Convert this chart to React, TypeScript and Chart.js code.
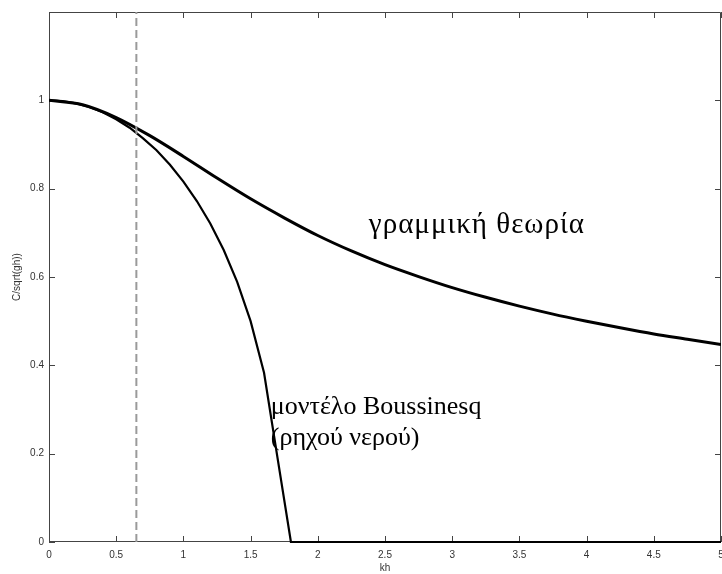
import React, { useEffect, useRef } from "react";
import { Chart, registerables } from "chart.js";

Chart.register(...registerables);

// kh samples and phase speed C/sqrt(gh) for linear theory
const KH_LINEAR = [0, 0.25, 0.5, 0.75, 1, 1.25, 1.5, 1.75, 2, 2.25, 2.5, 2.75, 3, 3.25, 3.5, 3.75, 4, 4.25, 4.5, 4.75, 5];
const C_LINEAR = [1, 0.99, 0.961, 0.92, 0.873, 0.824, 0.777, 0.734, 0.694, 0.659, 0.628, 0.601, 0.576, 0.554, 0.534, 0.516, 0.5, 0.485, 0.471, 0.459, 0.447];

// Boussinesq (shallow water) model
const KH_BOUSS = [0, 0.1, 0.2, 0.3, 0.4, 0.5, 0.6, 0.7, 0.8, 0.9, 1, 1.1, 1.2, 1.3, 1.4, 1.5, 1.6, 1.7, 1.8, 5];
const C_BOUSS = [1, 0.998, 0.993, 0.985, 0.973, 0.957, 0.938, 0.914, 0.887, 0.854, 0.816, 0.772, 0.721, 0.661, 0.589, 0.5, 0.383, 0.191, 0, 0];

// vertical dashed reference line
const KH_DASH = [0.65, 0.65];
const C_DASH = [0, 1.2];

const X_TICKS = [0, 0.5, 1, 1.5, 2, 2.5, 3, 3.5, 4, 4.5, 5];
const Y_TICKS = [0, 0.2, 0.4, 0.6, 0.8, 1];
const X_RANGE = [0, 5];
const Y_RANGE = [0, 1.2];

const X_TITLE = "kh";
const Y_TITLE = "C/sqrt(gh))";

// annotation texts, anchored in data coordinates (kh, C)
const NOTE_TEXTS = ["γραμμική θεωρία", "μοντέλο Boussinesq", "(ρηχού νερού)"];
const NOTE_KH = [2.38, 1.65, 1.65];
const NOTE_C = [0.699, 0.29, 0.22];
const NOTE_SIZE = [29, 26, 26];
const NOTE_SPACING = [1, 0, 0];

const TICK_FONT = { family: "'Liberation Sans', Arial, sans-serif", size: 10 };
const TICK_COLOR = "#333";

const boxPlugin = {
  id: "matlabBox",
  beforeDatasetsDraw(chart: any) {
    const { ctx, chartArea: a, scales } = chart;
    const xs = scales.x;
    const ys = scales.y;
    ctx.save();
    ctx.strokeStyle = "#444";
    ctx.lineWidth = 1;
    ctx.beginPath();
    ctx.rect(a.left + 0.5, a.top + 0.5, a.right - a.left - 1, a.bottom - a.top - 1);
    ctx.stroke();
    const L = 6;
    ctx.beginPath();
    X_TICKS.forEach((v) => {
      const px = Math.round(xs.getPixelForValue(v)) + 0.5;
      ctx.moveTo(px, a.bottom);
      ctx.lineTo(px, a.bottom - L);
      ctx.moveTo(px, a.top);
      ctx.lineTo(px, a.top + L);
    });
    Y_TICKS.forEach((v) => {
      const py = Math.round(ys.getPixelForValue(v)) + 0.5;
      ctx.moveTo(a.left, py);
      ctx.lineTo(a.left + L, py);
      ctx.moveTo(a.right, py);
      ctx.lineTo(a.right - L, py);
    });
    ctx.stroke();
    ctx.restore();
  },
  afterDatasetsDraw(chart: any) {
    const { ctx, scales } = chart;
    ctx.save();
    ctx.fillStyle = "#000";
    ctx.textAlign = "left";
    ctx.textBaseline = "alphabetic";
    NOTE_TEXTS.forEach((t, i) => {
      ctx.font = `${NOTE_SIZE[i]}px 'Liberation Serif', 'Times New Roman', serif`;
      (ctx as any).letterSpacing = `${NOTE_SPACING[i]}px`;
      ctx.fillText(t, scales.x.getPixelForValue(NOTE_KH[i]), scales.y.getPixelForValue(NOTE_C[i]));
    });
    ctx.restore();
  },
};

export default function App() {
  const ref = useRef<HTMLCanvasElement | null>(null);
  useEffect(() => {
    if (!ref.current) return;
    const toPts = (xs: number[], ys: number[]) => xs.map((x, i) => ({ x, y: ys[i] }));
    const chart = new Chart(ref.current, {
      type: "line",
      data: {
        datasets: [
          {
            label: "dash",
            data: toPts(KH_DASH, C_DASH),
            borderColor: "#9a9a9a",
            borderWidth: 2,
            borderDash: [8, 4],
            pointRadius: 0,
            fill: false,
          },
          {
            label: "linear",
            data: toPts(KH_LINEAR, C_LINEAR),
            borderColor: "#000",
            borderWidth: 3,
            pointRadius: 0,
            cubicInterpolationMode: "monotone",
            fill: false,
          },
          {
            label: "boussinesq",
            data: toPts(KH_BOUSS, C_BOUSS),
            borderColor: "#000",
            borderWidth: 2.2,
            pointRadius: 0,
            tension: 0,
            fill: false,
            clip: 3,
          },
        ],
      },
      options: {
        animation: false,
        responsive: false,
        layout: { padding: { top: 12, right: 1, left: 0, bottom: 0 } },
        plugins: { legend: { display: false }, tooltip: { enabled: false } },
        scales: {
          x: {
            type: "linear",
            min: X_RANGE[0],
            max: X_RANGE[1],
            afterBuildTicks: (s: any) => {
              s.ticks = X_TICKS.map((v) => ({ value: v }));
            },
            afterFit: (s: any) => {
              s.height = 32;
              s.paddingLeft = 0;
              s.paddingRight = 0;
            },
            ticks: {
              font: TICK_FONT,
              color: TICK_COLOR,
              padding: 7,
              autoSkip: false,
              maxRotation: 0,
              callback: (v: any) => String(v),
            },
            grid: { display: false, drawTicks: false },
            border: { display: false },
            title: { display: true, text: X_TITLE, font: TICK_FONT, color: TICK_COLOR, padding: { top: 0, bottom: 0 } },
          },
          y: {
            type: "linear",
            min: Y_RANGE[0],
            max: Y_RANGE[1],
            afterBuildTicks: (s: any) => {
              s.ticks = Y_TICKS.map((v) => ({ value: v }));
            },
            afterFit: (s: any) => {
              s.width = 49;
              s.paddingTop = 0;
              s.paddingBottom = 0;
            },
            ticks: {
              font: TICK_FONT,
              color: TICK_COLOR,
              padding: 5,
              autoSkip: false,
              callback: (v: any) => String(v),
            },
            grid: { display: false, drawTicks: false },
            border: { display: false },
            title: { display: true, text: Y_TITLE, font: TICK_FONT, color: TICK_COLOR, padding: { top: 11, bottom: 0 } },
          },
        },
      },
      plugins: [boxPlugin],
    });
    return () => chart.destroy();
  }, []);
  return (
    <div style={{ position: "absolute", left: 0, top: 0, width: 722, height: 574, background: "#fff" }}>
      <canvas ref={ref} width={722} height={574} />
    </div>
  );
}
